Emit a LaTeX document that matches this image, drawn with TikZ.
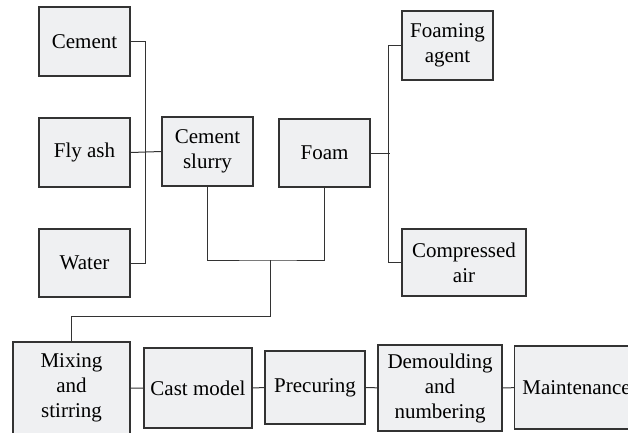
\documentclass[tikz,border=0pt]{standalone}
\usepackage{fontspec}
\setmainfont{Liberation Serif}
\usetikzlibrary{positioning}
\definecolor{boxfill}{HTML}{EFF0F2}
\definecolor{linegray}{HTML}{333333}
\tikzset{
	stage/.style={draw=linegray, fill=boxfill, line width=1.1pt, inner sep=2pt,
			align=center, font=\fontsize{21}{25}\selectfont},
	link/.style={draw=linegray, line width=1pt}
}
\begin{document}
\begin{tikzpicture}[x=1pt, y=-1pt]
			\useasboundingbox (0,0) rectangle (628,432);
			\clip (0,0) rectangle (628,432);

			% Raw materials of the slurry
			\node[stage, minimum width=91pt, minimum height=69pt] (cement) at (84.5,41.5) {Cement};
			\node[stage, minimum width=91pt, minimum height=69pt] (flyash) at (84.5,152.5) {Fly ash};
			\node[stage, minimum width=91pt, minimum height=68pt] (water) at (84.5,263) {Water};
			\node[stage, minimum width=91pt, minimum height=69pt] (slurry) at (207.5,151.5) {Cement\\slurry};

			% Foam and its components
			\node[stage, minimum width=91pt, minimum height=68pt] (foam) at (324.5,153) {Foam};
			\node[stage, minimum width=91pt, minimum height=69pt] (agent) at (447.5,45.5) {Foaming\\agent};
			\node[stage, minimum width=124pt, minimum height=67pt] (air) at (464,262.5) {Compressed\\air};

			% Production line
			\node[stage, minimum width=117pt, minimum height=92pt] (mixing) at (71.5,388) {Mixing\\and\\stirring};
			\node[stage, minimum width=108pt, minimum height=80pt] (cast) at (198,388) {Cast model};
			\node[stage, minimum width=100pt, minimum height=73pt] (precuring) at (315,387.5) {Precuring};
			\node[stage, minimum width=124pt, minimum height=86pt] (demould) at (440,388) {Demoulding\\and\\numbering};
			\node[stage, minimum width=124pt, minimum height=83pt, anchor=west] (maint) at (514,387.5) {Maintenance};

			% Junction points
			\coordinate (merge) at (270,260);
			\coordinate (drop) at (270,316);

			% Connectors
			\draw[link] (cement.east) -- ++(15,0) |- (water.east);
			\draw[link] (flyash.east) -- (slurry.west);
			\draw[link] (agent.west) -- ++(-13,0) |- (air.west);
			\draw[link] (foam.east) -- ++(19,0);
			\draw[link] (slurry.south) |- (merge) -| (foam.south);
			\draw[link] (merge) -- (drop) -| (mixing.north);
			\draw[link] (mixing) -- (cast) -- (precuring) -- (demould) -- (maint);
		\end{tikzpicture}
\end{document}
